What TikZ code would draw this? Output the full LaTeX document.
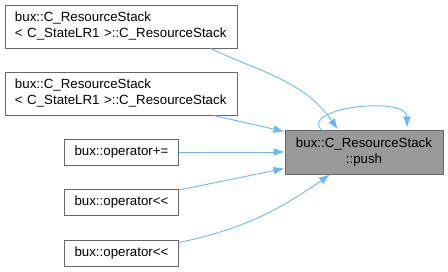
\documentclass[tikz,border=0pt]{standalone}
\usepackage{fontspec}
\setmainfont{Liberation Sans}
\usetikzlibrary{arrows.meta,positioning}
\definecolor{edgeblue}{HTML}{63B8FF}
\definecolor{frame}{HTML}{666666}
\definecolor{current}{HTML}{999999}

\tikzset{
  fn/.style={draw=frame,fill=white,line width=0.9pt,inner xsep=10pt,inner ysep=0pt,
    align=left,font=\fontsize{13.3}{16}\selectfont},
  wide/.style={fn,text width=212pt,minimum height=43pt},
  narrow/.style={fn,align=center,minimum width=113pt,minimum height=26pt},
  self/.style={fn,fill=current,align=center,minimum width=158pt,minimum height=44pt},
  call/.style={draw=edgeblue,line width=0.9pt,-{Latex[length=11pt,width=8pt]}}
}

\begin{document}
\begin{tikzpicture}[x=1pt,y=1pt]
  \useasboundingbox (0,0) rectangle (448,272);
  % callers on the left, the called function on the right
  \node[wide] (ctorA) at (121,245.5) {bux::C\_ResourceStack\\< C\_StateLR1 >::C\_ResourceStack};
  \node[wide] (ctorB) at (121,178.5) {bux::C\_ResourceStack\\< C\_StateLR1 >::C\_ResourceStack};
  \node[narrow] (opAdd) at (121.5,120) {bux::operator+=};
  \node[narrow] (opShlA) at (121.5,69.5) {bux::operator{<}{<}};
  \node[narrow] (opShlB) at (121.5,19) {bux::operator{<}{<}};
  \node[self] (push) at (364,120) {bux::C\_ResourceStack\\::push};

  \draw[call] ([xshift=-27pt]ctorA.south east) to[out=-25,in=125] ([xshift=-26pt]push.north);
  \draw[call] ([xshift=-24pt]ctorB.south east) -- ([yshift=-2pt]push.north west);
  \draw[call] (opAdd.east) -- (push.west);
  \draw[call] ([yshift=-1pt]opShlA.north east) -- ([yshift=6pt]push.south west);
  \draw[call] ([yshift=-3pt]opShlB.north east) to[out=12,in=215] ([xshift=-34pt]push.south);
  % recursive call
  \draw[call] ([xshift=-43pt]push.north) .. controls +(-20,22) and +(0,32) .. ([xshift=43pt,yshift=2pt]push.north);
\end{tikzpicture}
\end{document}
